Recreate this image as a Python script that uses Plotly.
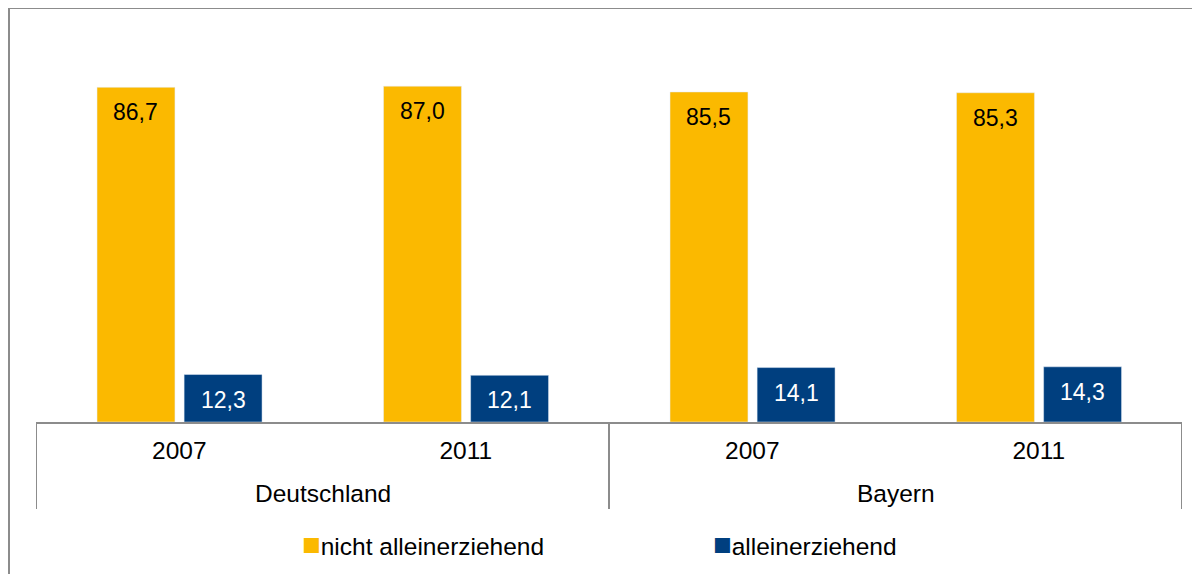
import plotly.graph_objects as go

# data
regions = ["Deutschland", "Bayern"]
years = ["2007", "2011", "2007", "2011"]
nicht_allein = [86.7, 87.0, 85.5, 85.3]
allein = [12.3, 12.1, 14.1, 14.3]
series_names = ["nicht alleinerziehend", "alleinerziehend"]

orange = "#FBB900"
navy = "#003F7F"
grey = "#8C8C8C"
font = "Liberation Sans, Arial, sans-serif"

# page has an 8px body margin, so positions are measured minus that
W, H = 1200, 574
OFF = 8
ml, mr, mt, mb = 36 - OFF, 18 + OFF, 36 - OFF, 152 + OFF
plot_w = W - ml - mr
plot_h = H - mt - mb
base = H - mb  # y pixel (figure) of the baseline


def py(pix):
    # page pixel -> paper y
    return (base - (pix - OFF)) / plot_h


def px(pix):
    return ((pix - OFF) - ml) / plot_w


bar_w = 0.272
offsets = [-0.287, 0.017]

xpos = list(range(len(years)))

fig = go.Figure()
for vals, col, name, off in zip([nicht_allein, allein], [orange, navy], series_names, offsets):
    fig.add_trace(go.Bar(x=xpos, y=vals, name=name, marker_color=col,
                         width=bar_w, offset=off, showlegend=False, hoverinfo="skip"))


def fmt(v):
    return f"{v:.1f}".replace(".", ",")


annotations = []
for vals, off, tc in zip([nicht_allein, allein], offsets, ["black", "white"]):
    for x, v in zip(xpos, vals):
        annotations.append(dict(x=x + off + bar_w / 2, y=v, text=fmt(v), showarrow=False,
                                yshift=-25, yanchor="middle", xanchor="center",
                                font=dict(family=font, size=23, color=tc)))

# region labels
per_region = len(years) // len(regions)
for k, r in enumerate(regions):
    annotations.append(dict(x=k * per_region + (per_region - 1) / 2, y=py(493),
                            xref="x", yref="paper", text=r, showarrow=False,
                            yanchor="middle", font=dict(family=font, size=24.5, color="black")))

# legend as text
for name, col, lx in zip(series_names, [orange, navy], [300, 711]):
    annotations.append(dict(x=px(lx), y=py(544), xref="paper", yref="paper",
                            xanchor="left", yanchor="middle", showarrow=False,
                            text=f"<span style='color:{col};font-size:31px'>■</span>{name}",
                            font=dict(family=font, size=24.5, color="black")))

shapes = []
div_bottom = py(509)
for k in range(len(regions) + 1):
    xb = k * per_region - 0.5
    shapes.append(dict(type="line", xref="x", yref="paper", x0=xb, x1=xb, y0=0, y1=div_bottom,
                       line=dict(color=grey, width=2)))
# outer frame
fx0 = px(9)
fy1 = py(8)
shapes.append(dict(type="line", xref="paper", yref="paper", x0=fx0, x1=1.1, y0=fy1, y1=fy1,
                   line=dict(color=grey, width=2)))
shapes.append(dict(type="line", xref="paper", yref="paper", x0=fx0, x1=fx0, y0=fy1, y1=-0.6,
                   line=dict(color=grey, width=2)))

fig.update_layout(
    width=W, height=H,
    margin=dict(l=ml, r=mr, t=mt, b=mb),
    plot_bgcolor="white", paper_bgcolor="white",
    annotations=annotations, shapes=shapes,
    font=dict(family=font, size=23, color="black"),
    xaxis=dict(range=[-0.5, len(years) - 0.5], tickvals=xpos, ticktext=years,
               showline=True, linecolor=grey, linewidth=2, showgrid=False, zeroline=False,
               ticks="", ticklabelstandoff=6, tickfont=dict(family=font, size=24.5, color="black")),
    yaxis=dict(range=[0, 100], visible=False),
)

fig.write_html("out.html")
